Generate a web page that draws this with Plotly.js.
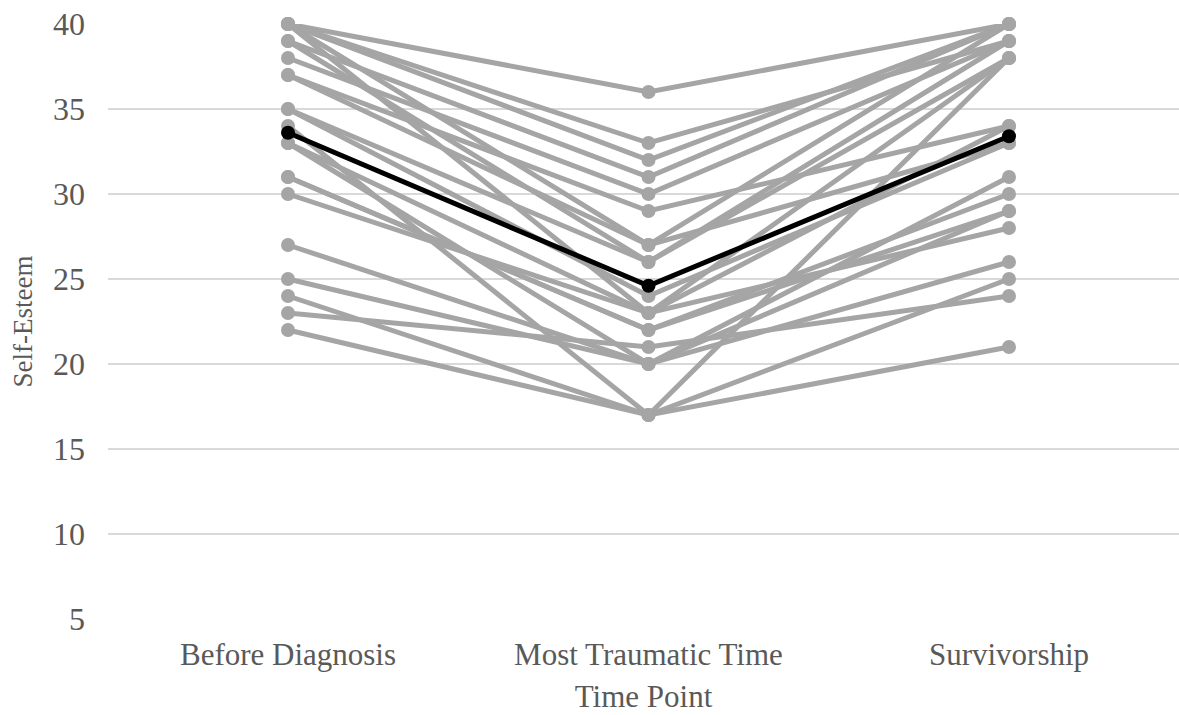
<!DOCTYPE html>
<html>
<head>
<meta charset="utf-8">
<script src="https://cdn.plot.ly/plotly-3.0.1.min.js"></script>
<style>html,body{margin:0;padding:0;background:#fff;}#chart{width:1179px;height:715px;}</style>
</head>
<body>
<div id="chart"></div>
<script>
const timePoints = ["Before Diagnosis", "Most Traumatic Time", "Survivorship"];
// one entry per participant
const beforeDiagnosis = [40, 40, 40, 40, 40, 39, 39, 38, 37, 37, 35, 35, 34, 33, 33, 31, 31, 30, 27, 25, 24, 23, 22];
const mostTraumatic   = [36, 33, 32, 27, 23, 31, 26, 30, 29, 27, 26, 24, 17, 23, 20, 22, 22, 23, 20, 20, 17, 21, 17];
const survivorship    = [40, 39, 40, 33, 38, 40, 39, 39, 34, 40, 38, 33, 38, 34, 31, 30, 29, 28, 26, 29, 25, 24, 21];
const meanScores      = [33.6, 24.6, 33.4];

const gray = "#a5a5a5";
const serif = "Liberation Serif";
const traces = [];
for (let i = 0; i < beforeDiagnosis.length; i++) {
  traces.push({
    type: "scatter", mode: "lines+markers",
    x: timePoints,
    y: [beforeDiagnosis[i], mostTraumatic[i], survivorship[i]],
    line: {color: gray, width: 5},
    marker: {color: gray, size: 14},
    cliponaxis: false, hoverinfo: "skip", showlegend: false
  });
}
traces.push({
  type: "scatter", mode: "lines+markers",
  x: timePoints, y: meanScores,
  line: {color: "#000000", width: 5},
  marker: {color: "#000000", size: 14},
  cliponaxis: false, showlegend: false, name: "Mean"
});

const layout = {
  width: 1179, height: 715,
  margin: {l: 108, r: 0, t: 24, b: 96},
  paper_bgcolor: "#ffffff", plot_bgcolor: "#ffffff",
  font: {family: serif, color: "#595959", size: 31},
  showlegend: false,
  xaxis: {
    type: "category",
    range: [-0.4993, 2.4716],
    showgrid: false, zeroline: false, showline: false,
    ticks: "", ticklabelstandoff: 14,
    tickfont: {family: serif, size: 31, color: "#595959"},
    title: {text: "Time Point", font: {family: serif, size: 31, color: "#595959"}, standoff: 14}
  },
  yaxis: {
    range: [5, 40], dtick: 5, tick0: 0,
    showgrid: true, gridcolor: "#d9d9d9", gridwidth: 1.5,
    zeroline: false, showline: false,
    ticks: "", ticklabelstandoff: 22,
    tickfont: {family: serif, size: 32, color: "#595959"},
    title: {text: "Self-Esteem", font: {family: serif, size: 27, color: "#595959"}, standoff: 12}
  }
};
Plotly.newPlot("chart", traces, layout, {displayModeBar: false, staticPlot: true});
</script>
</body>
</html>
